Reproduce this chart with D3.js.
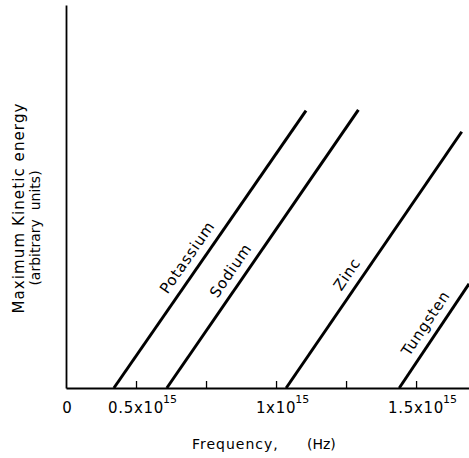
<!DOCTYPE html>
<html>
<head>
<meta charset="utf-8">
<script src="https://cdn.jsdelivr.net/npm/d3@7"></script>
<style>
  html, body { margin: 0; padding: 0; background: #fff; }
  svg { display: block; }
  text { font-family: "DejaVu Sans", sans-serif; fill: #000; }
</style>
</head>
<body>
<svg id="chart" width="469" height="458"></svg>
<script>
// ---- data (frequency in units of 10^15 Hz, energy in arbitrary units) ----
const metals = ["Potassium", "Sodium", "Zinc", "Tungsten"];
const thresholdFreq = [0.421, 0.610, 1.036, 1.440];   // where each line meets the axis
const endFreq = [1.107, 1.294, 1.663, 1.689];          // upper end of each line
const endEnergy = [7.24, 7.26, 6.69, 2.72];            // energy at upper end
const xTickValues = [0.5, 0.75, 1.0, 1.25, 1.5];
const xLabelValues = [0.5, 1.0, 1.5];
const xLabelBases = ["0.5x10", "1x10", "1.5x10"];
const xLabelExp = "15";
const originLabel = "0";
const xTitleParts = ["Frequency,", "(Hz)"];
const yTitleLines = ["Maximum Kinetic energy", "(arbitrary  units)"];

// ---- layout / style config ----
const labelStartEnergy = [2.30, 2.20, 2.38, 0.68];
const labelOffset = 9;

const svg = d3.select("#chart");
const x = d3.scaleLinear().domain([0.25, 1.689]).range([66, 469]);
const y = d3.scaleLinear().domain([0, 10]).range([388, 5]);

// axes
const xAxis = d3.axisBottom(x).tickValues(xTickValues).tickSizeInner(-7).tickSizeOuter(0).tickFormat("");
const gx = svg.append("g").attr("transform", `translate(0,${y(0)})`).call(xAxis);
gx.select(".domain").attr("stroke", "#000").attr("stroke-width", 2);
gx.selectAll(".tick line").attr("stroke", "#000").attr("stroke-width", 1.3);

const yAxis = d3.axisLeft(y).tickValues([]).tickSizeOuter(0);
const gy = svg.append("g").attr("transform", `translate(${x(0.25)},0)`).call(yAxis);
gy.select(".domain").attr("stroke", "#000").attr("stroke-width", 1.8);

// tick labels
svg.append("text").attr("x", x(0.25) + 1).attr("y", 413).attr("text-anchor", "middle")
  .style("font-size", "15px").text(originLabel);
xLabelValues.forEach((v, i) => {
  const t = svg.append("text").attr("y", 413).style("font-size", "15px").style("letter-spacing", "0.7px")
    .text(xLabelBases[i]);
  const w = t.node().getComputedTextLength();
  t.attr("x", x(v) - w / 2);
  svg.append("text").attr("x", x(v) + w / 2 - 1).attr("y", 403).style("font-size", "11px")
    .text(xLabelExp);
});

// axis titles
svg.append("text").attr("x", 192).attr("y", 449).style("font-size", "14px").style("letter-spacing", "1px").text(xTitleParts[0]);
svg.append("text").attr("x", 307).attr("y", 449).style("font-size", "14px").text(xTitleParts[1]);

svg.append("text").attr("transform", "translate(24,208) rotate(-90)").attr("text-anchor", "middle")
  .style("font-size", "15px").style("letter-spacing", "1.1px").text(yTitleLines[0]);
svg.append("text").attr("transform", "translate(40,228) rotate(-90)").attr("text-anchor", "middle")
  .style("font-size", "14px").style("white-space", "pre").text(yTitleLines[1]);

// lines
const line = d3.line().x(d => x(d[0])).y(d => y(d[1]));
metals.forEach((m, i) => {
  const pts = [[thresholdFreq[i], 0], [endFreq[i], endEnergy[i]]];
  svg.append("path").attr("d", line(pts)).attr("fill", "none").attr("stroke", "#000")
    .attr("stroke-width", 3);
  // label along the line
  const x0 = x(pts[0][0]), y0 = y(pts[0][1]), x1 = x(pts[1][0]), y1 = y(pts[1][1]);
  const ang = Math.atan2(y1 - y0, x1 - x0);
  const e = labelStartEnergy[i];
  const f = thresholdFreq[i] + (endFreq[i] - thresholdFreq[i]) * e / endEnergy[i];
  const px = x(f) + Math.sin(ang) * labelOffset;
  const py = y(e) - Math.cos(ang) * labelOffset;
  svg.append("text").attr("transform", `translate(${px},${py}) rotate(${ang * 180 / Math.PI})`)
    .style("font-size", "15px").style("letter-spacing", "0.8px").text(m);
});
</script>
</body>
</html>
